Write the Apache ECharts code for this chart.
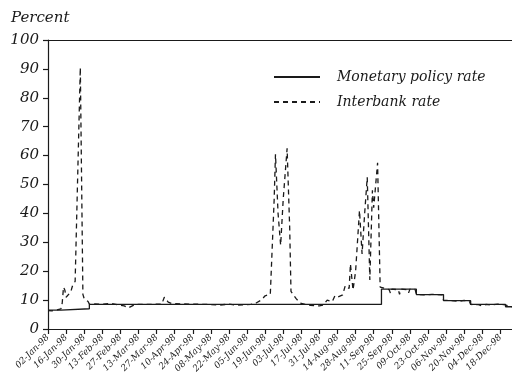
<!DOCTYPE html>
<html>
<head>
<meta charset="utf-8">
<script src="https://cdn.jsdelivr.net/npm/echarts@6/dist/echarts.min.js"></script>
<style>
  html, body { margin: 0; padding: 0; background: #fff; }
  #chart { width: 512px; height: 377px; }
</style>
</head>
<body>
<div id="chart"></div>
<script>
// Monetary policy rate: level in force from each date on (step changes)
const policyDates = ['1998-01-02', '1998-01-12', '1998-02-03', '1998-09-17', '1998-10-14',
                     '1998-11-04', '1998-11-25', '1998-12-22', '1998-12-27'];
const policyValues = [6.5, 7.0, 8.5, 13.8, 11.9, 9.8, 8.5, 7.7, 7.7];

// Interbank rate observations
const interbankDates = [
  '1998-01-02', '1998-01-05', '1998-01-07', '1998-01-09', '1998-01-12', '1998-01-13', '1998-01-14',
  '1998-01-15', '1998-01-16', '1998-01-19', '1998-01-20', '1998-01-21', '1998-01-22', '1998-01-23',
  '1998-01-27', '1998-01-29', '1998-01-30', '1998-02-02', '1998-02-03',
  '1998-02-06', '1998-02-13', '1998-02-20', '1998-02-25', '1998-03-02', '1998-03-05', '1998-03-09',
  '1998-03-11', '1998-03-20', '1998-03-31', '1998-04-02', '1998-04-05', '1998-04-08', '1998-04-15',
  '1998-04-24', '1998-05-05', '1998-05-15', '1998-05-22', '1998-05-28', '1998-06-03', '1998-06-08',
  '1998-06-12', '1998-06-16', '1998-06-19', '1998-06-23', '1998-06-24', '1998-06-26', '1998-06-27',
  '1998-06-29', '1998-07-01', '1998-07-03', '1998-07-06', '1998-07-08', '1998-07-09', '1998-07-13',
  '1998-07-16', '1998-07-20', '1998-07-24', '1998-07-28', '1998-07-31', '1998-08-03', '1998-08-06',
  '1998-08-10', '1998-08-12', '1998-08-14', '1998-08-18', '1998-08-20', '1998-08-23', '1998-08-24',
  '1998-08-26', '1998-08-28', '1998-08-31', '1998-09-02', '1998-09-04', '1998-09-06', '1998-09-08',
  '1998-09-10', '1998-09-11', '1998-09-14', '1998-09-16', '1998-09-17', '1998-09-23', '1998-09-24',
  '1998-09-25', '1998-09-30', '1998-10-01', '1998-10-02', '1998-10-07', '1998-10-08', '1998-10-09',
  '1998-10-13', '1998-10-14', '1998-10-20', '1998-10-26', '1998-10-30', '1998-11-03', '1998-11-04',
  '1998-11-10', '1998-11-16', '1998-11-20', '1998-11-24', '1998-11-25', '1998-12-01', '1998-12-04',
  '1998-12-07', '1998-12-11', '1998-12-16', '1998-12-21', '1998-12-22', '1998-12-27'
];
const interbankValues = [
  6.4, 6.3, 6.5, 6.6, 7.0, 9.0, 14.5,
  13.5, 11.0, 12.5, 13.5, 15.0, 15.5, 16.5,
  90.5, 12.0, 10.5, 9.5, 8.6,
  8.7, 8.6, 8.8, 8.4, 8.0, 7.3, 8.2,
  8.5, 8.5, 8.6, 11.0, 9.3, 8.8, 8.7,
  8.6, 8.5, 8.3, 8.6, 8.2, 8.4, 8.5,
  9.0, 10.0, 11.5, 12.0, 12.5, 45.0, 60.5,
  40.0, 29.0, 45.0, 62.5, 35.0, 13.0, 10.5,
  9.0, 8.5, 8.2, 8.0, 8.0, 8.3, 10.0,
  9.5, 11.5, 11.0, 11.8, 15.0, 14.0, 22.5,
  13.5, 20.0, 41.0, 26.0, 40.0, 52.5, 17.0,
  48.0, 42.0, 57.5, 14.5, 13.9, 13.6, 12.3,
  13.8, 13.6, 12.0, 13.8, 13.6, 12.5, 13.8,
  13.7, 12.0, 11.8, 12.0, 11.9, 11.8, 10.0,
  9.8, 9.6, 9.9, 9.6, 8.5, 8.4, 8.0,
  8.5, 8.3, 8.6, 8.4, 7.8, 7.7
];

// Tick labels on the value axis
const yTicks = [0, 10, 20, 30, 40, 50, 60, 70, 80, 90, 100];

const MONTHS = ['Jan', 'Feb', 'Mar', 'Apr', 'May', 'Jun', 'Jul', 'Aug', 'Sep', 'Oct', 'Nov', 'Dec'];
const ORIGIN = Date.UTC(1998, 0, 2);
const DAY = 86400000;

function dayOf(s) {
  const [y, m, d] = s.split('-').map(Number);
  return Math.round((Date.UTC(y, m - 1, d) - ORIGIN) / DAY);
}
function fmtDay(n) {
  const dt = new Date(ORIGIN + n * DAY);
  const dd = String(dt.getUTCDate()).padStart(2, '0');
  return dd + '-' + MONTHS[dt.getUTCMonth()] + '-' + String(dt.getUTCFullYear()).slice(2);
}

const FONT = 'DejaVu Serif';
const INK = '#1a1a1a';

const chart = echarts.init(document.getElementById('chart'), null, { renderer: 'canvas' });
chart.setOption({
  animation: false,
  backgroundColor: '#fff',
  title: {
    text: 'Percent',
    left: 6, top: 6,
    textStyle: { fontFamily: FONT, fontStyle: 'italic', fontWeight: 'normal', fontSize: 15, color: INK }
  },
  legend: {
    orient: 'vertical',
    left: 268, top: 65,
    itemWidth: 46, itemHeight: 10, itemGap: 11,
    data: ['Monetary policy rate', 'Interbank rate'],
    itemStyle: { opacity: 0 },
    textStyle: { fontFamily: FONT, fontStyle: 'italic', fontSize: 14, color: INK, padding: [0, 0, 0, 12] }
  },
  grid: { left: 48, right: 0, top: 40, bottom: 48 },
  xAxis: [{
    type: 'value',
    min: 0, max: 359, interval: 14,
    axisLine: { show: true, lineStyle: { color: INK, width: 1.2 } },
    axisTick: { show: true, length: 5, inside: false, lineStyle: { color: INK, width: 1.2 } },
    splitLine: { show: false },
    axisLabel: {
      rotate: 45, margin: 7, fontFamily: FONT, fontStyle: 'italic', fontSize: 9, color: INK,
      showMaxLabel: false,
      formatter: v => fmtDay(v)
    }
  }, {
    type: 'value', position: 'top',
    min: 0, max: 359,
    axisLine: { show: true, lineStyle: { color: INK, width: 1.2 } },
    axisTick: { show: false }, axisLabel: { show: false }, splitLine: { show: false }
  }],
  yAxis: {
    type: 'value',
    min: yTicks[0], max: yTicks[yTicks.length - 1], interval: 10,
    axisLine: { show: true, lineStyle: { color: INK, width: 1.2 } },
    axisTick: { show: true, length: 5, lineStyle: { color: INK, width: 1.2 } },
    splitLine: { show: false },
    axisLabel: { margin: 9, fontFamily: FONT, fontStyle: 'italic', fontSize: 15, color: INK }
  },
  series: [{
    name: 'Monetary policy rate',
    type: 'line',
    step: 'end',
    symbol: 'none',
    lineStyle: { color: INK, width: 1.3, type: 'solid' },
    itemStyle: { color: INK },
    data: policyDates.map((d, i) => [dayOf(d), policyValues[i]])
  }, {
    name: 'Interbank rate',
    type: 'line',
    symbol: 'none',
    lineStyle: { color: INK, width: 1.3, type: [5, 4] },
    itemStyle: { color: INK },
    data: interbankDates.map((d, i) => [dayOf(d), interbankValues[i]])
  }]
});
</script>
</body>
</html>
